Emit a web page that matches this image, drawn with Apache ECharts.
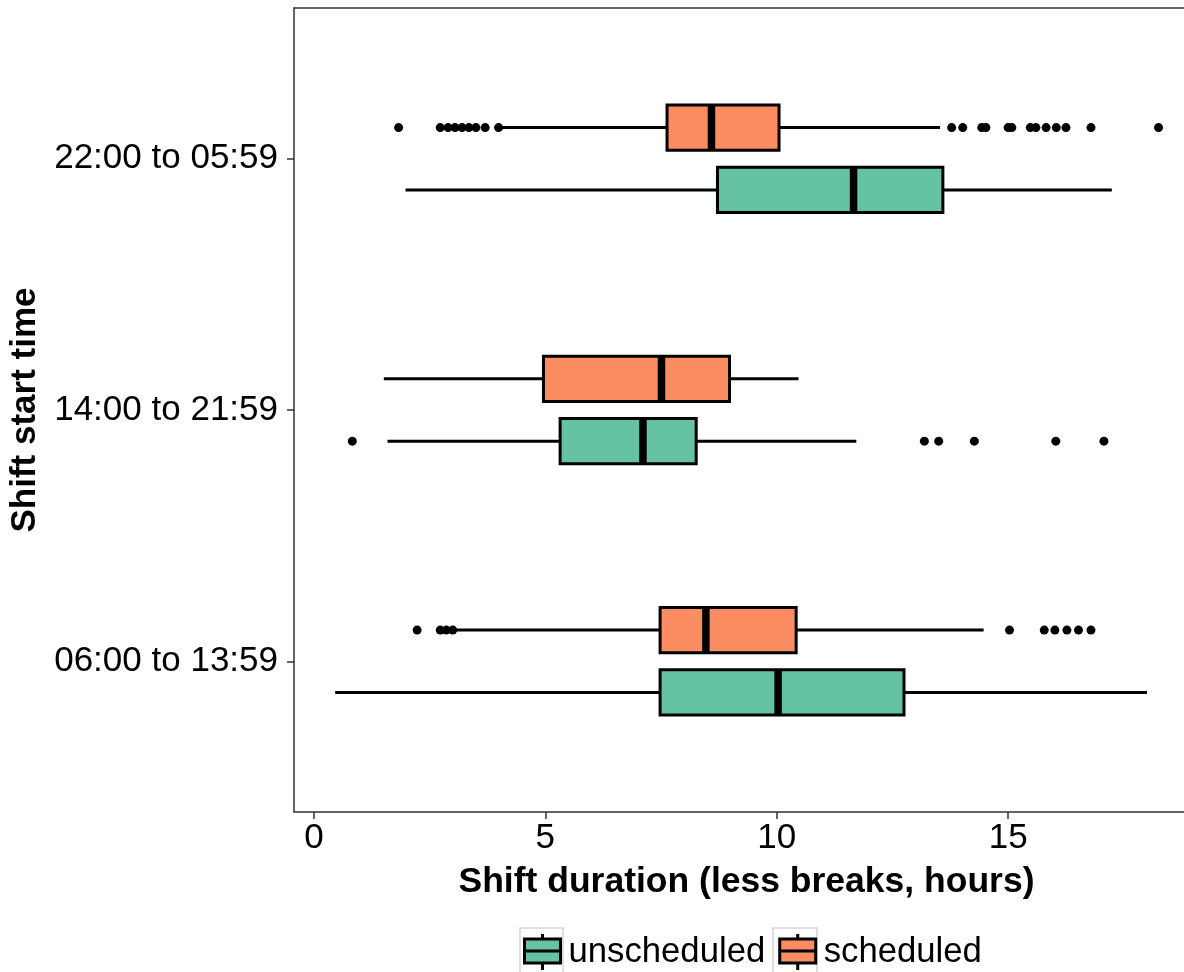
<!DOCTYPE html>
<html>
<head>
<meta charset="utf-8">
<script src="https://cdn.jsdelivr.net/npm/echarts@6/dist/echarts.min.js"></script>
<style>
  html, body { margin: 0; padding: 0; background: #fff; }
  #chart { width: 1184px; height: 972px; }
</style>
</head>
<body>
<div id="chart"></div>
<script>
// Shift start categories, bottom to top
const categories = ['06:00 to 13:59', '14:00 to 21:59', '22:00 to 05:59'];
const xTicks = [0, 5, 10, 15];

// Five-number summaries per category: [low whisker, Q1, median, Q3, high whisker]
const unscheduledStats = [
  [0.46, 7.48, 10.03, 12.75, 18.00],
  [1.59, 5.32, 7.11, 8.26, 11.72],
  [1.98, 8.72, 11.66, 13.59, 17.24]
];
const scheduledStats = [
  [3.06, 7.48, 8.47, 10.42, 14.47],
  [1.51, 4.96, 7.51, 8.98, 10.47],
  [4.06, 7.63, 8.59, 10.05, 13.53]
];

// Outlying shifts per category
const unscheduledOutliers = [
  [],
  [0.83, 13.19, 13.50, 14.27, 16.03, 17.07],
  []
];
const scheduledOutliers = [
  [2.23, 2.73, 2.86, 3.00, 15.03, 15.78, 16.01, 16.27, 16.52, 16.79],
  [],
  [1.83, 2.73, 2.90, 3.05, 3.20, 3.35, 3.50, 3.70, 3.99,
   13.78, 14.02, 14.43, 14.52, 15.00, 15.08, 15.48, 15.60, 15.82, 16.04, 16.25, 16.79, 18.25]
];

const GREEN = '#66C2A5';
const ORANGE = '#FC8D62';
const FONT = "'Liberation Sans', Arial, sans-serif";
const X_MIN = -0.43, X_MAX = 18.8;

// dodge offsets (in category units) and box half-height
const SHIFT = { unscheduled: -0.124, scheduled: 0.124 };
const BOX_HALF = 0.09;

function statsRows(stats) {
  return stats.map((s, i) => [i].concat(s));
}
function outlierRows(list) {
  const rows = [];
  list.forEach((vals, i) => vals.forEach(v => rows.push([v, i])));
  return rows;
}

function boxRenderer(shift, color) {
  return function (params, api) {
    const cat = api.value(0);
    const unit = api.size([0, 1])[1];
    const cy = api.coord([0, cat])[1] - shift * unit;
    const half = BOX_HALF * unit;
    const px = k => api.coord([api.value(k), cat])[0];
    const xLow = px(1), xQ1 = px(2), xMed = px(3), xQ3 = px(4), xHigh = px(5);
    const line = { stroke: '#000', lineWidth: 3 };
    return {
      type: 'group',
      children: [
        { type: 'line', shape: { x1: xLow, y1: cy, x2: xQ1, y2: cy }, style: line },
        { type: 'line', shape: { x1: xQ3, y1: cy, x2: xHigh, y2: cy }, style: line },
        { type: 'rect', shape: { x: xQ1, y: cy - half, width: xQ3 - xQ1, height: 2 * half },
          style: { fill: color, stroke: '#000', lineWidth: 3 } },
        { type: 'line', shape: { x1: xMed, y1: cy - half, x2: xMed, y2: cy + half },
          style: { stroke: '#000', lineWidth: 7.5 } }
      ]
    };
  };
}

function outlierRenderer(shift) {
  return function (params, api) {
    const cat = api.value(1);
    const unit = api.size([0, 1])[1];
    const p = api.coord([api.value(0), cat]);
    return {
      type: 'circle',
      shape: { cx: p[0], cy: p[1] - shift * unit, r: 4.5 },
      style: { fill: '#000' }
    };
  };
}

// legend key: small horizontal-whisker box glyph
const keyIcon = 'path://M19,0V5M1,5H37V29H1ZM1,17H37M19,29V36';
const frame = { color: '#333', width: 1.5 };
const keyFrame = { fill: 'none', stroke: '#d4d4d4', lineWidth: 1.5 };

const chart = echarts.init(document.getElementById('chart'), null, { renderer: 'canvas' });
chart.setOption({
  animation: false,
  backgroundColor: '#fff',
  textStyle: { fontFamily: FONT },
  grid: { left: 294, top: 8, right: 0, bottom: 160, show: false },
  xAxis: [
    {
      type: 'value',
      position: 'bottom',
      min: X_MIN,
      max: X_MAX,
      name: 'Shift duration (less breaks, hours)',
      nameLocation: 'middle',
      nameGap: 52,
      nameTextStyle: { fontSize: 35.5, fontWeight: 'bold', color: '#000', fontFamily: FONT, padding: [0, 0, 0, 15] },
      axisLine: { show: true, onZero: false, lineStyle: frame },
      axisTick: { show: true, length: 7, customValues: xTicks, lineStyle: frame },
      axisLabel: { customValues: xTicks, fontSize: 35, color: '#000', margin: 9, fontFamily: FONT },
      splitLine: { show: false }
    },
    {
      // top edge of the panel
      type: 'value',
      position: 'top',
      min: X_MIN,
      max: X_MAX,
      axisLine: { show: true, onZero: false, lineStyle: frame },
      axisTick: { show: false },
      axisLabel: { show: false },
      splitLine: { show: false }
    }
  ],
  yAxis: {
    type: 'value',
    min: -0.6,
    max: 2.6,
    name: 'Shift start time',
    nameLocation: 'middle',
    nameRotate: 90,
    nameGap: 245,
    nameTextStyle: { fontSize: 35, fontWeight: 'bold', color: '#000', fontFamily: FONT },
    axisLine: { show: true, onZero: false, lineStyle: frame },
    axisTick: { show: true, length: 7, customValues: [0, 1, 2], lineStyle: frame },
    axisLabel: {
      customValues: [0, 1, 2],
      formatter: v => categories[Math.round(v)],
      fontSize: 35, color: '#000', margin: 16, fontFamily: FONT
    },
    splitLine: { show: false }
  },
  legend: {
    left: 518,
    top: 926,
    itemWidth: 38,
    itemHeight: 36,
    itemGap: 13,
    textStyle: { fontSize: 34.7, color: '#000', fontFamily: FONT, padding: [0, 0, 0, 2], lineHeight: 42 },
    data: [
      { name: 'unscheduled', icon: keyIcon, itemStyle: { color: GREEN, borderColor: '#000', borderWidth: 3 } },
      { name: 'scheduled', icon: keyIcon, itemStyle: { color: ORANGE, borderColor: '#000', borderWidth: 3 } }
    ]
  },
  graphic: [
    { type: 'rect', z: -1, shape: { x: 520, y: 928, width: 43, height: 60 }, style: keyFrame },
    { type: 'rect', z: -1, shape: { x: 773, y: 928, width: 44, height: 60 }, style: keyFrame }
  ],
  series: [
    {
      name: 'unscheduled', type: 'custom',
      itemStyle: { color: GREEN },
      data: statsRows(unscheduledStats),
      encode: { x: [1, 2, 3, 4, 5], y: 0 },
      renderItem: boxRenderer(SHIFT.unscheduled, GREEN)
    },
    {
      name: 'scheduled', type: 'custom',
      itemStyle: { color: ORANGE },
      data: statsRows(scheduledStats),
      encode: { x: [1, 2, 3, 4, 5], y: 0 },
      renderItem: boxRenderer(SHIFT.scheduled, ORANGE)
    },
    {
      name: 'unscheduled', type: 'custom',
      itemStyle: { color: GREEN },
      data: outlierRows(unscheduledOutliers),
      encode: { x: 0, y: 1 },
      renderItem: outlierRenderer(SHIFT.unscheduled)
    },
    {
      name: 'scheduled', type: 'custom',
      itemStyle: { color: ORANGE },
      data: outlierRows(scheduledOutliers),
      encode: { x: 0, y: 1 },
      renderItem: outlierRenderer(SHIFT.scheduled)
    }
  ]
});
</script>
</body>
</html>
